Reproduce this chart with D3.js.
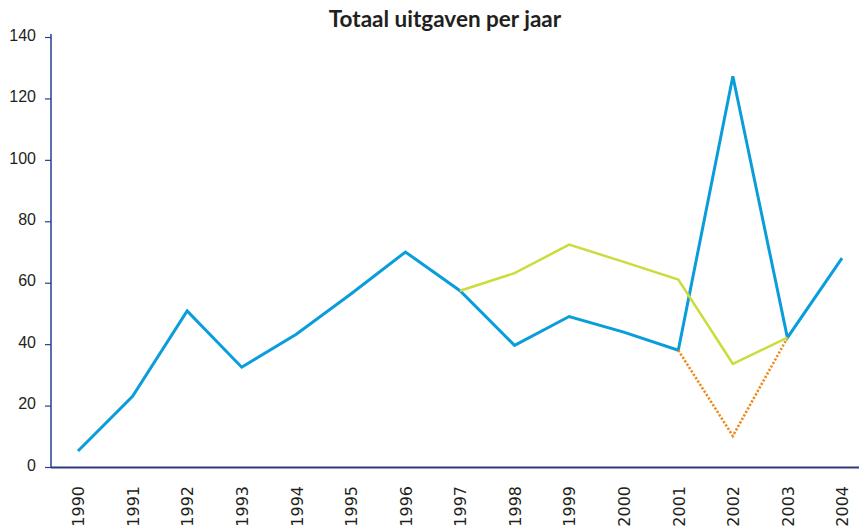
<!DOCTYPE html>
<html>
<head>
<meta charset="utf-8">
<script src="https://cdn.jsdelivr.net/npm/d3@7"></script>
<style>
  body { margin: 0; background: #fff; }
  svg { display: block; }
</style>
</head>
<body>
<div id="chart"></div>
<script>
  var years = ["1990","1991","1992","1993","1994","1995","1996","1997","1998","1999","2000","2001","2002","2003","2004"];
  var yTicks = [0, 20, 40, 60, 80, 100, 120, 140];

  // totaal uitgaven (blauw)
  var totaal = [5.2, 23, 50.8, 32.5, 43.2, 56.3, 70, 57.4, 39.6, 49, 43.9, 38, 127.2, 42.1, 68];
  // groene lijn vanaf 1997
  var groenJaren = ["1997","1998","1999","2000","2001","2002","2003"];
  var groen = [57.4, 63.1, 72.4, 66.8, 61, 33.6, 42.1];
  // oranje stippellijn
  var oranjeJaren = ["2001","2002","2003"];
  var oranje = [38, 10.1, 42.1];

  var width = 859, height = 529;

  var svg = d3.select("#chart")
    .append("svg")
    .attr("width", width)
    .attr("height", height);

  var x = d3.scalePoint()
    .domain(years)
    .range([78, 842]);

  var y = d3.scaleLinear()
    .domain([0, 140])
    .range([467, 37]);

  // titel
  svg.append("text")
    .attr("x", 445)
    .attr("y", 27)
    .attr("text-anchor", "middle")
    .attr("font-family", "Lato, 'Open Sans', sans-serif")
    .attr("font-weight", "bold")
    .attr("font-size", 22.5)
    .attr("fill", "#231f20")
    .text("Totaal uitgaven per jaar");

  // y-as
  var yAxis = svg.append("g")
    .attr("transform", "translate(51,0)")
    .call(d3.axisLeft(y).tickValues(yTicks).tickSize(6).tickSizeOuter(0).tickPadding(9));
  yAxis.select(".domain").attr("stroke", "#23418f").attr("stroke-width", 1.5)
    .attr("d", "M0," + (y(140) - 3) + "V" + y(0));
  yAxis.selectAll(".tick line").attr("stroke", "#23418f").attr("stroke-width", 1.2);
  yAxis.selectAll(".tick text")
    .attr("font-family", "'Liberation Sans', Arial, sans-serif")
    .attr("font-size", 16)
    .attr("fill", "#231f20")
    .attr("dy", "0.2em");

  // x-as
  var xAxis = svg.append("g")
    .attr("transform", "translate(0,467)")
    .call(d3.axisBottom(x).tickSize(0).tickPadding(0));
  xAxis.select(".domain").remove();
  svg.append("line")
    .attr("x1", 51).attr("x2", width)
    .attr("y1", 467.5).attr("y2", 467.5)
    .attr("stroke", "#2f3a78")
    .attr("stroke-width", 2);
  xAxis.selectAll(".tick text")
    .attr("font-family", "'DejaVu Sans', sans-serif")
    .attr("font-size", 16)
    .attr("fill", "#231f20")
    .attr("text-anchor", "end")
    .attr("transform", "rotate(-90)")
    .attr("x", -19)
    .attr("y", 0)
    .attr("dy", "0.36em");

  var line = d3.line()
    .x(function(d){ return x(d.jaar); })
    .y(function(d){ return y(d.waarde); });

  function pairs(jaren, waarden){
    return jaren.map(function(j, i){ return {jaar: j, waarde: waarden[i]}; });
  }

  svg.append("path")
    .datum(pairs(years, totaal))
    .attr("fill", "none")
    .attr("stroke", "#0a9ddb")
    .attr("stroke-width", 3)
    .attr("stroke-linejoin", "miter")
    .attr("d", line);

  svg.append("path")
    .datum(pairs(oranjeJaren, oranje))
    .attr("fill", "none")
    .attr("stroke", "#f0891a")
    .attr("stroke-width", 2.6)
    .attr("stroke-dasharray", "2.2,1.8")
    .attr("d", line);

  svg.append("path")
    .datum(pairs(groenJaren, groen))
    .attr("fill", "none")
    .attr("stroke", "#cbdc3c")
    .attr("stroke-width", 2.5)
    .attr("d", line);
</script>
</body>
</html>
